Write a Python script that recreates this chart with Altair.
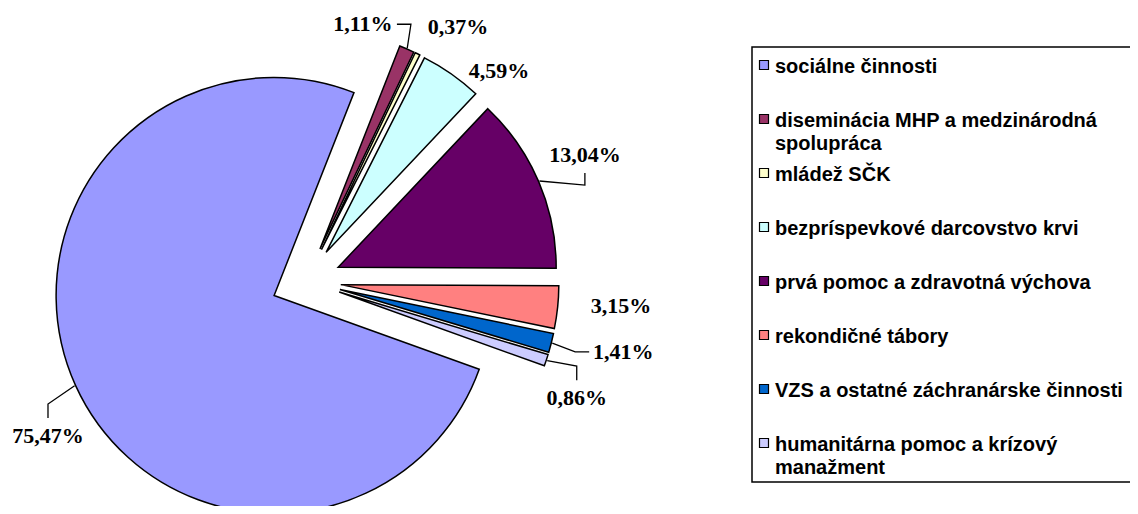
import math
import altair as alt
import pandas as pd

# ---------------- data ----------------
categories = [
    "sociálne činnosti",
    "diseminácia MHP a medzinárodná spolupráca",
    "mládež SČK",
    "bezpríspevkové darcovstvo krvi",
    "prvá pomoc a zdravotná výchova",
    "rekondičné tábory",
    "VZS a ostatné záchranárske činnosti",
    "humanitárna pomoc a krízový manažment",
]
legend_line1 = [
    "sociálne činnosti",
    "diseminácia MHP a medzinárodná",
    "mládež SČK",
    "bezpríspevkové darcovstvo krvi",
    "prvá pomoc a zdravotná výchova",
    "rekondičné tábory",
    "VZS a ostatné záchranárske činnosti",
    "humanitárna pomoc a krízový",
]
legend_line2 = ["", "spolupráca", "", "", "", "", "", "manažment"]
shares = [75.47, 1.11, 0.37, 4.59, 13.04, 3.15, 1.41, 0.86]
value_labels = ["75,47%", "1,11%", "0,37%", "4,59%", "13,04%", "3,15%", "1,41%", "0,86%"]

# ---------------- style / layout ----------------
colors = ["#9999FF", "#993366", "#FFFFCC", "#CCFFFF", "#660066", "#FF8080", "#0066CC", "#CCCCFF"]
W, H = 1122, 498
CX, CY = 298, 273          # pie centre (plot px)
R = 218                    # pie radius
EXPLODE = 35               # explosion distance
START_DEG = 109.8          # angle of first slice
label_angle = [239, 12.5, 30.9, 42.6, 65.7, 94.5, 102.6, 113.4]
label_radius = [301, 263, 296, 285, 306, 316, 325, 295]
leader_side = ["top", "right", "", "", "bottom", "", "left", "top"]
LEG_X_SYM, LEG_X_TXT = 756, 767
LEG_Y0, LEG_DY, LEG_LINE2 = 59, 54, 23

a0 = math.radians(START_DEG)
xs = alt.Scale(domain=[0, W], range=[0, W], nice=False, zero=False)
ys = alt.Scale(domain=[0, H], range=[0, H], nice=False, zero=False)

rows, lab_rows, lead_rows, leg_rows = [], [], [], []
cum = 0.0
for i, (cat, v) in enumerate(zip(categories, shares)):
    t0, t1 = cum, cum + v
    cum = t1
    mid = a0 + (t0 + t1) / 200.0 * 2 * math.pi
    ux, uy = math.sin(mid), -math.cos(mid)
    scx, scy = CX + EXPLODE * ux, CY + EXPLODE * uy
    rows.append(dict(idx=i, cat=cat, t0=t0, t1=t1, cx=scx, cy=scy))
    la = math.radians(label_angle[i])
    lx, ly = CX + label_radius[i] * math.sin(la), CY - label_radius[i] * math.cos(la)
    lab_rows.append(dict(idx=i, lx=lx, ly=ly, txt=value_labels[i]))
    side = leader_side[i]
    if side:
        p0 = (scx + (R + 1) * ux, scy + (R + 1) * uy)
        if side == "right":
            p2 = (lx + 34, ly); p1 = (p2[0] + 14, p2[1])
        elif side == "left":
            p2 = (lx - 34, ly); p1 = (p2[0] - 14, p2[1])
        elif side == "top":
            p2 = (lx, ly - 18); p1 = (p2[0], p2[1] - 14)
        else:
            p2 = (lx, ly + 18); p1 = (p2[0], p2[1] + 12)
        for k, p in enumerate([p0, p1, p2]):
            lead_rows.append(dict(idx=i, k=k, x=p[0], y=p[1]))
    leg_rows.append(dict(idx=i, cat=cat, l1=legend_line1[i], l2=legend_line2[i],
                         ly=LEG_Y0 + LEG_DY * i))

slices = pd.DataFrame(rows)
labels = pd.DataFrame(lab_rows)
leaders = pd.DataFrame(lead_rows)
legend = pd.DataFrame(leg_rows)

color = alt.Color("cat:N", scale=alt.Scale(domain=categories, range=colors), legend=None)

box = alt.Chart(pd.DataFrame({"a": [0]})).mark_rect(
    fill="white", stroke="black", strokeWidth=1.5
).encode(x=alt.value(744), x2=alt.value(1140), y=alt.value(39), y2=alt.value(474))

arcs = alt.Chart(slices).mark_arc(radius=R, stroke="black", strokeWidth=1.5).encode(
    theta=alt.Theta("t0:Q", stack=False,
                    scale=alt.Scale(domain=[0, 100], range=[a0, a0 + 2 * math.pi])),
    theta2="t1:Q",
    x=alt.X("cx:Q", scale=xs, axis=None),
    y=alt.Y("cy:Q", scale=ys, axis=None),
    color=color,
    order=alt.Order("idx:Q"),
)

lead = alt.Chart(leaders).mark_line(color="black", strokeWidth=1.3).encode(
    x=alt.X("x:Q", scale=xs, axis=None),
    y=alt.Y("y:Q", scale=ys, axis=None),
    detail="idx:N",
    order=alt.Order("k:Q"),
)

lab = alt.Chart(labels).mark_text(
    font="Liberation Serif", fontWeight="bold", fontSize=22, color="black",
    align="center", baseline="middle"
).encode(
    x=alt.X("lx:Q", scale=xs, axis=None),
    y=alt.Y("ly:Q", scale=ys, axis=None),
    text="txt:N",
)

leg_sym = alt.Chart(legend).mark_square(size=81, filled=True, stroke="black",
                                        strokeWidth=1.2, opacity=1).encode(
    x=alt.value(LEG_X_SYM),
    y=alt.Y("ly:Q", scale=ys, axis=None),
    yOffset=alt.value(-2),
    color=color,
)

leg_t1 = alt.Chart(legend).mark_text(
    font="Liberation Sans", fontWeight="bold", fontSize=20, color="black",
    align="left", baseline="middle"
).encode(x=alt.value(LEG_X_TXT), y=alt.Y("ly:Q", scale=ys, axis=None), text="l1:N")

leg_t2 = alt.Chart(legend).transform_filter("datum.l2 != ''").mark_text(
    font="Liberation Sans", fontWeight="bold", fontSize=20, color="black",
    align="left", baseline="middle", dy=LEG_LINE2
).encode(x=alt.value(LEG_X_TXT), y=alt.Y("ly:Q", scale=ys, axis=None), text="l2:N")

chart = alt.layer(box, arcs, lead, lab, leg_sym, leg_t1, leg_t2).properties(
    width=W, height=H, padding=0,
    autosize=alt.AutoSizeParams(type="none"),
).configure_view(stroke=None)

chart.save("out.html", embed_options={"renderer": "svg", "actions": False})
